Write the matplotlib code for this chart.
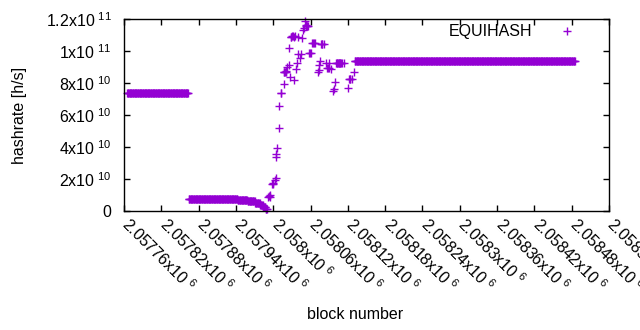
import numpy as np
import matplotlib
matplotlib.use("Agg")
import matplotlib.pyplot as plt
import matplotlib.transforms as mtransforms
from matplotlib.ticker import FixedLocator

plt.rcParams['font.family'] = ['Liberation Sans', 'DejaVu Sans']
plt.rcParams['mathtext.fontset'] = 'custom'
plt.rcParams['mathtext.rm'] = 'Liberation Sans'
plt.rcParams['mathtext.default'] = 'regular'

# flat runs of blocks with the same hashrate (values in 1e9 h/s)
run_start = [2057765, 2057864, 2057943, 2057959, 2057971, 2057979, 2057984, 2057988, 2058131]
run_end   = [2057863, 2057942, 2057958, 2057970, 2057978, 2057983, 2057987, 2057990, 2058485]
run_value = [73.6, 7.7, 6.9, 6.0, 5.0, 3.8, 2.5, 1.2, 93.5]

# scattered points in the ramp-up (values in 1e9 h/s)
pt_block = [2057992, 2057993, 2057994, 2057995, 2057998, 2057999, 2058000, 2058003, 2058004,
            2058004, 2058005, 2058006, 2058009, 2058009, 2058012, 2058013, 2058017, 2058017,
            2058018, 2058019, 2058020, 2058021, 2058022, 2058025, 2058027, 2058025, 2058028,
            2058029, 2058030, 2058032, 2058033, 2058035, 2058033, 2058037, 2058038, 2058040,
            2058040, 2058043, 2058045, 2058046, 2058048, 2058049, 2058051, 2058053, 2058053,
            2058054, 2058055, 2058056, 2058058, 2058059, 2058060, 2058063, 2058064, 2058065,
            2058067, 2058072, 2058073, 2058074, 2058075, 2058077, 2058078, 2058079, 2058082,
            2058085, 2058087, 2058088, 2058089, 2058090, 2058093, 2058096, 2058097, 2058099,
            2058101, 2058102, 2058103, 2058104, 2058105, 2058106, 2058107, 2058108, 2058109,
            2058111, 2058114, 2058120, 2058122, 2058123, 2058124, 2058127, 2058130]
pt_value = [8.8, 9.2, 8.8, 10.0, 16.8, 17.0, 17.5, 19.4, 20.6,
            33.8, 35.6, 39.4, 52.0, 65.6, 73.8, 73.8, 79.4, 87.0,
            87.0, 87.0, 87.5, 87.0, 90.0, 91.0, 84.0, 102.0, 109.0,
            109.0, 109.4, 109.4, 82.0, 109.4, 109.0, 89.0, 92.5, 98.0,
            109.0, 95.6, 98.0, 108.0, 113.0, 114.4, 118.7, 116.0, 115.6,
            115.6, 115.6, 115.6, 98.7, 98.7, 99.0, 105.0, 105.0, 105.0,
            105.0, 87.0, 88.0, 91.0, 94.0, 104.4, 104.4, 104.4, 104.4,
            92.5, 89.4, 89.4, 89.4, 92.5, 89.0, 75.0, 76.0, 80.6,
            92.5, 92.5, 92.5, 92.5, 92.5, 92.5, 92.5, 92.5, 92.5,
            92.5, 92.5, 76.9, 82.5, 82.5, 82.5, 82.5, 87.0]

x_ticks = [2057760 + 60 * i for i in range(14)]
x_labels = ['2.05776', '2.05782', '2.05788', '2.05794', '2.058', '2.05806', '2.05812',
            '2.05818', '2.05824', '2.0583', '2.05836', '2.05842', '2.05848', '2.05854']
y_ticks = [0, 2e10, 4e10, 6e10, 8e10, 1e11, 1.2e11]
y_labels = ['0', r'2x10$^{\ 10}$', r'4x10$^{\ 10}$', r'6x10$^{\ 10}$', r'8x10$^{\ 10}$',
            r'1x10$^{\ 11}$', r'1.2x10$^{\ 11}$']

# expand runs to one point per block
xs, ys = [], []
for s, e, v in zip(run_start, run_end, run_value):
    b = np.arange(s, e + 1)
    xs.append(b)
    ys.append(np.full(len(b), v * 1e9))
xs.append(np.array(pt_block))
ys.append(np.array(pt_value) * 1e9)
xs = np.concatenate(xs)
ys = np.concatenate(ys)

purple = '#9400d3'
fs = 11.5
fig = plt.figure(figsize=(6.4, 3.3), dpi=100)
ax = fig.add_axes([124 / 640, 1 - 211 / 330, 485 / 640, 192 / 330])
ax.plot(xs, ys, linestyle='none', marker='+', color=purple, markersize=5.2,
        markeredgewidth=1.0, label='EQUIHASH', clip_on=False)

ax.set_xlim(2057760, 2058540)
ax.set_ylim(0, 1.2e11)
ax.xaxis.set_major_locator(FixedLocator(x_ticks))
ax.set_yticks(y_ticks)
ax.set_yticklabels(y_labels)
ax.tick_params(direction='in', length=4, width=1, top=True, right=True,
               labelsize=fs, colors='black')
ax.tick_params(axis='x', pad=8)
ax.tick_params(axis='y', pad=9)
ax.set_xticklabels([l + r'x10$^{\ 6}$' for l in x_labels], rotation=-45,
                   ha='left', va='top', rotation_mode='anchor')
# nudge rotated labels so they start right at the tick
shift = mtransforms.ScaledTranslation(0.08, 0.08, fig.dpi_scale_trans)
for lab in ax.get_xticklabels():
    lab.set_transform(lab.get_transform() + shift)
for sp in ax.spines.values():
    sp.set_linewidth(1)

ax.set_xlabel('block number', fontsize=fs)
ax.xaxis.set_label_coords(0.477, -0.5)
ax.set_ylabel('hashrate [h/s]', fontsize=fs)
ax.yaxis.set_label_coords(-0.2, 0.5)

leg = ax.legend(loc='upper right', markerfirst=False, frameon=False, fontsize=fs,
                handlelength=3.5, handletextpad=0.4, borderaxespad=0.0,
                bbox_to_anchor=(1 - 8 / 485, 1 + 1 / 192))

fig.savefig('out.png', dpi=100)
